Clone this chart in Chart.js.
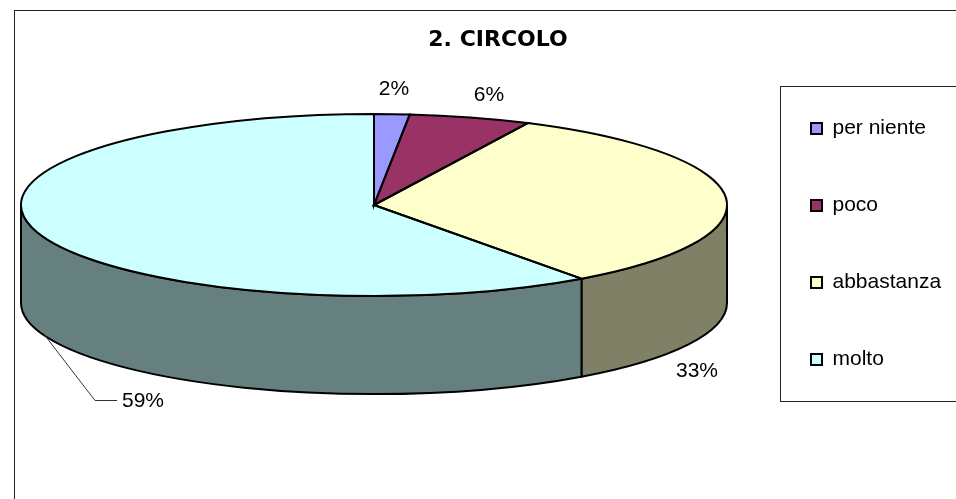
<!DOCTYPE html>
<html>
<head>
<meta charset="utf-8">
<title>2. CIRCOLO</title>
<script src="https://cdn.jsdelivr.net/npm/chart.js@4"></script>
<style>
    html, body { margin: 0; padding: 0; width: 956px; height: 499px; overflow: hidden; background: #fff; }
    #frame { position: absolute; left: 14px; top: 10px; width: 966px; height: 500px; border: 1px solid #222; }
    canvas { display: block; }
</style>
</head>
<body>
<div id="frame"><canvas id="myChart" width="966" height="500"></canvas></div>
<script>
// values, the slices are a bit narrower than their rounded labels
var categorie = ["per niente", "poco", "abbastanza", "molto"];
var valori = [1.6, 5.5, 32.5, 59.4];
var etichette = ["2%", "6%", "33%", "59%"];
var colori = ["#9999FF", "#993366", "#FFFFCC", "#CCFFFF"];
var coloriParete = ["#4D4D80", "#4D1A33", "#808066", "#668080"];

// pie geometry in canvas coords (canvas starts at 15,11 of the page)
var centroX = 359, centroY = 194, raggio = 353, schiacciato = 0.258, spessore = 98;
var posEtichette = [[379, 78], [474, 84], [682, 360], [128, 390]];

var pie3d = {
    id: 'pie3d',
    afterLayout: function (chart) {
        // put the legend where the box is
        var l = chart.legend;
        var w = l.width;
        l.left = 740; l.right = l.left + w;
        l.top = 51; l.bottom = 482;
    },
    beforeDatasetsDraw: function (chart) {
        var ctx = chart.ctx;
        var fette = chart.getDatasetMeta(0).data;

        // side wall, only the front half of the rim can be seen
        fette.forEach(function (arc, i) {
            var a0 = Math.max(arc.startAngle, 0);
            var a1 = Math.min(arc.endAngle, Math.PI);
            if (a1 <= a0) return;
            var rx = arc.outerRadius, ry = rx * schiacciato;
            ctx.beginPath();
            ctx.ellipse(centroX, centroY, rx, ry, 0, a0, a1);
            ctx.ellipse(centroX, centroY + spessore, rx, ry, 0, a1, a0, true);
            ctx.closePath();
            ctx.fillStyle = coloriParete[i];
            ctx.fill();
            ctx.lineWidth = 2;
            ctx.strokeStyle = '#000';
            ctx.stroke();
        });

        // the slices are drawn by the library, squashed into an ellipse
        ctx.save();
        ctx.translate(centroX, centroY);
        ctx.scale(1, schiacciato);
        ctx.translate(-fette[0].x, -fette[0].y);
    },
    afterDatasetsDraw: function (chart) {
        var ctx = chart.ctx;
        ctx.restore();

        // outlines after the restore so the pen is not squashed too
        chart.getDatasetMeta(0).data.forEach(function (arc) {
            var rx = arc.outerRadius, ry = rx * schiacciato;
            ctx.beginPath();
            ctx.moveTo(centroX, centroY);
            ctx.ellipse(centroX, centroY, rx, ry, 0, arc.startAngle, arc.endAngle);
            ctx.closePath();
            ctx.lineWidth = 2;
            ctx.strokeStyle = '#000';
            ctx.stroke();
        });
    },
    afterDraw: function (chart) {
        var ctx = chart.ctx;

        // box around the legend, it runs off the right side
        ctx.lineWidth = 1;
        ctx.strokeStyle = '#222';
        ctx.strokeRect(765.5, 75.5, 400, 315);

        // percent labels
        ctx.font = '21px "Liberation Sans"';
        ctx.fillStyle = '#000';
        ctx.textAlign = 'center';
        ctx.textBaseline = 'middle';
        etichette.forEach(function (t, i) {
            ctx.fillText(t, posEtichette[i][0], posEtichette[i][1]);
        });

        // leader line of the last label
        ctx.lineWidth = 1;
        ctx.strokeStyle = '#333';
        ctx.beginPath();
        ctx.moveTo(28, 322);
        ctx.lineTo(80, 389.5);
        ctx.lineTo(102, 389.5);
        ctx.stroke();
    }
};

var myChart = new Chart(document.getElementById("myChart").getContext("2d"), {
    type: 'pie',
    data: {
        labels: categorie,
        datasets: [{
            data: valori,
            backgroundColor: colori,
            borderWidth: 0,
            radius: raggio,
            clip: false
        }]
    },
    options: {
        responsive: false,
        animation: false,
        plugins: {
            title: {
                display: true,
                text: '2. CIRCOLO',
                color: '#000',
                font: { family: '"DejaVu Sans"', size: 22, weight: 'bold' },
                padding: { top: 16, bottom: 10 }
            },
            legend: {
                position: 'right',
                align: 'start',
                labels: {
                    color: '#000',
                    font: { family: '"Liberation Sans"', size: 21 },
                    boxWidth: 11,
                    boxHeight: 11,
                    padding: 56,
                    generateLabels: function (chart) {
                        return categorie.map(function (c, i) {
                            return { text: c, fillStyle: colori[i], strokeStyle: '#000', lineWidth: 2, index: i };
                        });
                    }
                }
            },
            tooltip: { enabled: false }
        }
    },
    plugins: [pie3d]
});
</script>
</body>
</html>
